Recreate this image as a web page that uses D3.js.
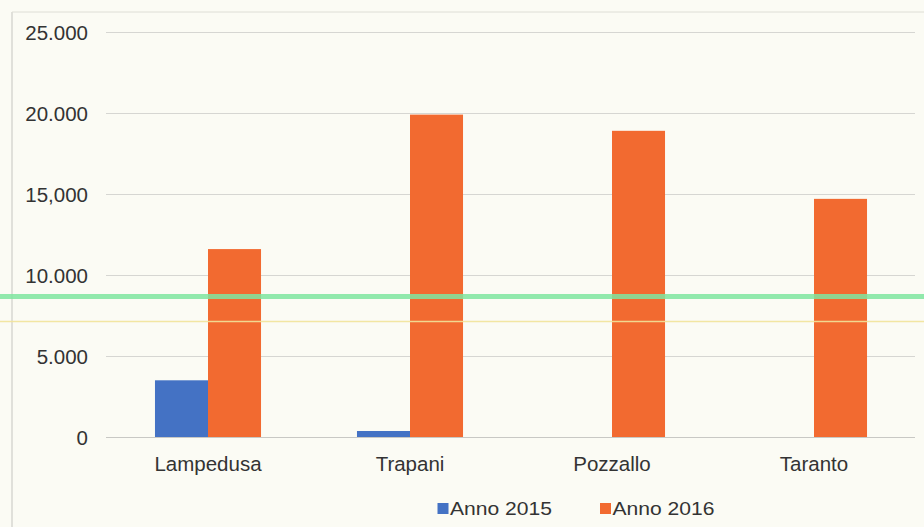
<!DOCTYPE html>
<html>
<head>
<meta charset="utf-8">
<script src="https://cdn.jsdelivr.net/npm/d3@7"></script>
<style>
  html, body { margin: 0; padding: 0; background: #fbfbf4; }
  svg { display: block; }
  text { font-family: "Liberation Sans", Arial, sans-serif; }
</style>
</head>
<body>
<svg id="chart" width="924" height="527"></svg>
<script>
const categories = ["Lampedusa", "Trapani", "Pozzallo", "Taranto"];
const seriesNames = ["Anno 2015", "Anno 2016"];
const anno2015 = [3500, 370, 0, 0];
const anno2016 = [11600, 19900, 18900, 14700];
const tickValues = [0, 5000, 10000, 15000, 20000, 25000];
const tickLabels = ["0", "5.000", "10.000", "15,000", "20.000", "25.000"];
const colors = ["#4472c4", "#f26a30"];

const svg = d3.select("#chart");
const W = 924, H = 527;

// chart frame (scanned border)
svg.append("rect").attr("x", 0).attr("y", 0).attr("width", W).attr("height", H).attr("fill", "#fbfbf4");
svg.append("line").attr("x1", 12).attr("x2", 12).attr("y1", 12).attr("y2", H).attr("stroke", "#cfcfc8").attr("stroke-width", 1.2);
svg.append("line").attr("x1", 12).attr("x2", W).attr("y1", 12).attr("y2", 12).attr("stroke", "#deded6").attr("stroke-width", 1);

const plot = { left: 107, right: 915, top: 32, bottom: 437 };

const x0 = d3.scaleBand().domain(categories).range([plot.left, plot.right])
  .paddingInner(0.475).paddingOuter(0.2375);
const x1 = d3.scaleBand().domain(seriesNames).range([0, x0.bandwidth()]).padding(0);
const y = d3.scaleLinear().domain([0, 25000]).range([plot.bottom, plot.top]);

// gridlines
svg.append("g").selectAll("line").data(tickValues).join("line")
  .attr("x1", plot.left - 1).attr("x2", plot.right)
  .attr("y1", d => Math.round(y(d)) + 0.5).attr("y2", d => Math.round(y(d)) + 0.5)
  .attr("stroke", d => d === 0 ? "#c8c8c4" : "#d6d6d2").attr("stroke-width", 1);

// y axis labels
const yAxis = d3.axisLeft(y).tickValues(tickValues)
  .tickFormat((d, i) => tickLabels[i]).tickSize(0).tickPadding(0);
const gy = svg.append("g").attr("transform", `translate(88,0)`).call(yAxis);
gy.select(".domain").remove();
gy.selectAll("text").attr("font-size", 20.5).attr("fill", "#333").attr("dy", "0.36em")
  .style("font-family", "'Liberation Sans', Arial, sans-serif");

// bars
const data = categories.map((c, i) => ({ cat: c, vals: [anno2015[i], anno2016[i]] }));
const groups = svg.append("g").selectAll("g").data(data).join("g")
  .attr("transform", d => `translate(${x0(d.cat)},0)`);
groups.selectAll("rect").data(d => d.vals.map((v, j) => ({ s: seriesNames[j], v, j })))
  .join("rect")
  .attr("x", d => x1(d.s))
  .attr("width", x1.bandwidth())
  .attr("y", d => y(d.v))
  .attr("height", d => plot.bottom - y(d.v))
  .attr("fill", d => colors[d.j]);

// x axis labels
const xAxis = d3.axisBottom(x0).tickSize(0).tickPadding(0);
const gx = svg.append("g").attr("transform", `translate(0,471)`).call(xAxis);
gx.select(".domain").remove();
gx.selectAll("text").attr("font-size", 20.5).attr("fill", "#333").attr("y", 0).attr("dy", 0)
  .style("font-family", "'Liberation Sans', Arial, sans-serif");

// scan highlighter lines
svg.append("line").attr("x1", 0).attr("x2", W).attr("y1", 296.5).attr("y2", 296.5)
  .attr("stroke", "#7fe6a0").attr("stroke-width", 5).attr("opacity", 0.85);
svg.append("line").attr("x1", 0).attr("x2", W).attr("y1", 321.5).attr("y2", 321.5)
  .attr("stroke", "#f2e49a").attr("stroke-width", 1.5).attr("opacity", 0.9);

// legend
const legendX = [437.5, 600];
const lg = svg.append("g").selectAll("g").data(seriesNames).join("g")
  .attr("transform", (d, i) => `translate(${legendX[i]},515)`);
lg.append("rect").attr("x", 0).attr("y", -12).attr("width", 11).attr("height", 11)
  .attr("fill", (d, i) => colors[i]);
lg.append("text").attr("x", 12.5).attr("y", 0)
  .attr("font-size", 18).attr("fill", "#333")
  .attr("textLength", 102).attr("lengthAdjust", "spacingAndGlyphs")
  .text(d => d);
</script>
</body>
</html>
